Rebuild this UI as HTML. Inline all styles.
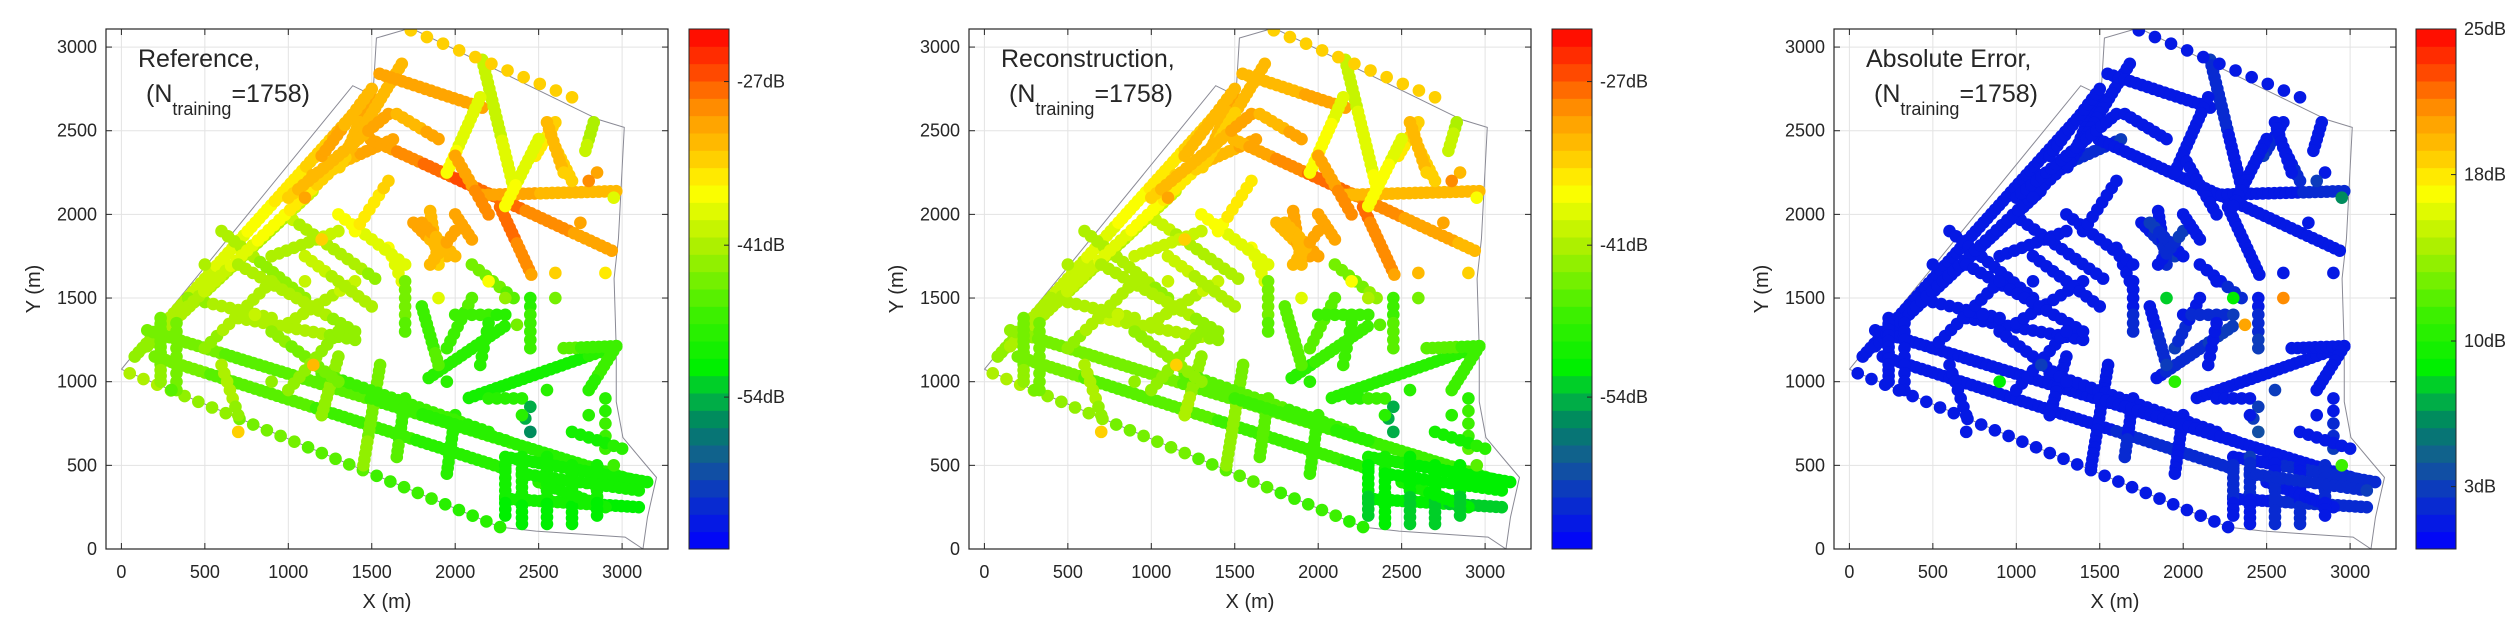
<!DOCTYPE html>
<html><head><meta charset="utf-8">
<style>
html,body{margin:0;padding:0;background:#fff;}
body{width:2517px;height:624px;overflow:hidden;font-family:"Liberation Sans",sans-serif;}
svg text{font-family:"Liberation Sans",sans-serif;fill:#262626;}
</style></head>
<body>
<svg id="fig" width="2517" height="624" viewBox="0 0 2517 624" xmlns="http://www.w3.org/2000/svg"></svg>
<script>
// ---- street data (metres / dB) ----
const sx1=[80,155,1145,1493,1680,1547,1493,2100,2162,2269,2162,2150,2600,2830,2500,1734,1750,1850,600,985,700,155,200,50,2082,1841,2650,2965,235,1550,1700,2000,1300,2300,2300,2400,2700,2500,1800,2450,2100,900,400,1000,1600,2900,1200,
 400,1000,1200,700,1100,1300,1400,500,900,1700,1950,2000,2150,1500,1000,600,2300,2550,2850,2400,2600,2000,2550,1800,1850,330,2200,2700,1650,2000];
const sy1=[1150,1212,2234,2710,2900,2840,2448,2170,2116,2044,2924,2700,2550,2550,2450,3100,1950,2020,1900,1997,1380,1307,1150,1050,903,1022,1200,1212,1380,1100,900,800,1150,550,300,550,500,400,1450,1500,1700,1750,1500,1350,1800,900,1050,
 1450,2100,2350,1700,1750,2000,1900,1200,1300,1600,1200,1400,1100,900,950,1100,500,550,500,450,2400,2350,2550,1950,1700,1350,900,700,2600,2000];
const sx2=[1480,1145,1627,1333,1306,2162,2100,2938,2965,2456,2349,1950,2480,2780,2300,2700,1950,1900,1100,1520,1400,3100,2300,2269,2965,2296,2965,2800,235,1450,1650,1950,1200,3150,3100,2400,2700,2900,1900,2450,2350,1300,900,1400,1700,2900,2200,
 1300,1600,1500,1400,1500,1700,1600,900,1300,1700,2100,2300,2200,2300,1300,700,2300,2550,2850,3100,2700,2200,2650,2000,2000,330,2400,3000,1900,2100];
const sy2=[2700,2139,2448,2329,2282,2638,2170,1783,2139,1640,2163,2250,2350,2380,2050,2700,1750,1700,1500,1616,1250,400,480,131,1212,1331,1212,950,1000,500,550,450,800,400,250,150,150,250,1100,1200,1500,1900,1380,1600,1550,600,700,
 2300,2600,2750,1300,1450,1700,2200,1600,1000,1300,1500,1400,1350,650,1300,800,200,150,200,350,2200,2000,2250,1750,1900,950,900,600,2450,1850];
const refA=[-43,-42,-32,-31,-32,-31,-31,-27,-31,-27,-40,-38,-34,-41,-38,-33,-31,-32,-41,-40,-41,-44,-44,-41,-50,-49,-46,-47,-44,-44,-47,-48,-43,-50,-50,-50,-50,-49,-47,-48,-44,-41,-42,-41,-37,-48,-46,
 -41,-33,-31,-41,-40,-37,-36,-42,-43,-44,-47,-47,-48,-47,-42,-41,-50,-50,-50,-50,-33,-31,-32,-31,-32,-44,-49,-50,-32,-31];
const refB=[-31,-40,-31,-32,-33,-31,-26,-31,-32,-30,-38,-37,-35,-40,-37,-34,-32,-33,-43,-42,-42,-49,-49,-49,-49,-48,-47,-48,-43,-43,-46,-48,-42,-50,-51,-51,-51,-50,-46,-47,-45,-40,-41,-40,-38,-47,-48,
 -33,-31,-32,-42,-41,-38,-34,-41,-44,-45,-46,-48,-48,-49,-42,-42,-51,-51,-51,-50,-34,-29,-33,-32,-31,-44,-48,-49,-31,-30];
const recA=[-43,-41,-33,-31,-32,-32,-32,-28,-32,-28,-40,-38,-33,-41,-38,-33,-32,-31,-41,-40,-40,-43,-44,-41,-49,-48,-45,-47,-44,-44,-46,-47,-43,-50,-51,-50,-51,-50,-46,-47,-44,-40,-41,-41,-37,-48,-45,
 -41,-33,-32,-41,-40,-37,-36,-42,-43,-44,-46,-47,-47,-47,-42,-41,-51,-51,-51,-51,-33,-31,-32,-32,-32,-44,-48,-50,-32,-31];
const recB=[-32,-40,-31,-33,-34,-31,-27,-32,-32,-30,-37,-36,-35,-39,-36,-34,-31,-32,-42,-41,-42,-48,-48,-48,-48,-47,-47,-47,-43,-42,-45,-47,-41,-52,-53,-52,-53,-52,-45,-45,-43,-40,-41,-40,-38,-46,-47,
 -34,-31,-32,-42,-41,-38,-35,-41,-43,-45,-46,-47,-47,-48,-42,-42,-53,-53,-53,-52,-34,-29,-33,-31,-31,-44,-47,-49,-31,-30];
const errA=[1,1,1.5,1,1,1,1,1,1,1,2.5,1.5,1,1,1,1,1,1,1,1,1,1,1,1.5,1.5,1.5,1,1,1,1,1,1,1,1.5,1.5,2.5,1,1,1,1,1,1,1,1,1,1,1.5,
 1,1,1,1,1.5,1,1,1,1,1,2.5,1.5,1,1,1,1,2,1.5,2,2,1,1,1,3,1,1,1,1.5,1,1];
const errB=[1.5,1.5,2.5,1,1.5,1,1.5,1,2,1,1,1,2.5,1,1.5,1,3,2,1.5,1,1,1.5,2,1,1,3,1,1,1,1,2,1,1,2,2,1,2,1.5,2.5,3,2,1,1,1,1,2.5,1,
 1.5,1,1,1,1,1.5,1,1,1.5,2,1,2.5,1,1.5,1,1,1.5,2,1.5,2.5,2,1,1,1,3,1,1.5,1,1,1];
const sGap=[35,35,35,35,35,35,35,35,35,35,35,35,35,35,35,110,35,35,50,50,50,35,35,90,35,35,35,35,35,35,35,35,35,35,35,35,35,35,35,50,50,50,50,50,50,70,45,
 45,40,40,50,50,50,50,50,50,50,50,50,50,40,50,50,40,40,40,40,40,40,40,40,40,50,50,50,40,40];
// ---- isolated measurement points ----
const px=[2450,2420,2450,1100,1200,800,1150,700,2600,2750,2850,2900,2950,2600,2370,2300,1900,2200,1100,500,1950,2400,2550,2800,2950,900,300,2800];
const py=[850,780,700,2100,1850,1400,1100,700,1650,1950,2250,1650,2100,1500,1340,1500,1500,1600,1600,1700,1000,800,950,800,500,1000,950,2200];
const pRef=[-55,-54,-56,-30,-33,-40,-32,-33,-33,-30,-31,-35,-38,-44,-44,-42,-38,-37,-40,-41,-49,-49,-49,-48,-47,-42,-45,-29];
const pRec=[-55,-54,-55,-31,-33,-40,-33,-34,-32,-31,-32,-34,-37,-44,-46,-41,-38,-37,-40,-41,-48,-48,-49,-48,-46,-42,-44,-29];
const pErr=[3,3,4,1,1,1,3,1,1,1,1,1,6,21,20,9,8,1,1,1,10,1,3,1,11,9,1,3];
// ---- boundary outline ----
const bx=[0,1386,1507,1528,1734,2858,3013,2978,2952,2965,2965,3005,3125,3206,3152,3125,3018,2483,2269,0];
const by=[1074,2769,2710,3054,3114,2567,2520,1854,1616,1189,880,666,523,428,190,0,71,107,131,1074];
// ---- ticks ----
const xTicks=[0,500,1000,1500,2000,2500,3000];
const yTicks=[0,500,1000,1500,2000,2500,3000];
const dbTicks=[-27,-41,-54];
const errTicks=[3,10,18,25];

const NS="http://www.w3.org/2000/svg";
const svg=document.getElementById('fig');
function mk(tag,attrs,parent){const e=document.createElementNS(NS,tag);for(const k in attrs)e.setAttribute(k,attrs[k]);(parent||svg).appendChild(e);return e;}
const stops=[[0,0,0,255],[0.1,10,50,200],[0.17,20,90,150],[0.24,0,130,100],[0.3,0,190,60],[0.35,0,240,0],[0.45,60,240,0],[0.58,170,240,0],[0.69,255,255,0],[0.76,255,200,0],[0.84,255,150,0],[0.92,255,70,0],[1,255,0,0]];
function cmap(t){t=Math.max(0,Math.min(0.9999,t));t=(Math.floor(t*30)+0.5)/30;
 for(let i=1;i<stops.length;i++){if(t<=stops[i][0]){const a=stops[i-1],b=stops[i];const f=(t-a[0])/(b[0]-a[0]);
 return `rgb(${Math.round(a[1]+f*(b[1]-a[1]))},${Math.round(a[2]+f*(b[2]-a[2]))},${Math.round(a[3]+f*(b[3]-a[3]))})`;}}return 'rgb(255,0,0)';}

const TOP=29,BOT=549,W=562;
const XPM=0.1669,YPM=520/3108;
function panel(L,title,which,vmin,vmax,cbL,ticks,tickFmt){
 const xs=m=>L+15.4+m*XPM, ys=m=>BOT-m*YPM;
 const g=mk('g',{});
 
 
 xTicks.forEach(t=>{const l=mk('line',{x1:xs(t),x2:xs(t),y1:TOP,y2:BOT,stroke:'#e3e3e3','stroke-width':1},g);
  
  });
 yTicks.forEach(t=>{const l=mk('line',{x1:L,x2:L+W,y1:ys(t),y2:ys(t),stroke:'#e3e3e3','stroke-width':1},g);
  
  });
 const clip=mk('clipPath',{id:'c'+which},g);mk('rect',{x:L,y:TOP,width:W,height:BOT-TOP},clip);
 const pts=bx.map((v,i)=>xs(v)+','+ys(by[i])).join(' ');
 const bl=mk('polyline',{points:pts,fill:'none',stroke:'#8a8a95','stroke-width':1,'clip-path':`url(#c${which})`},g);
 
 
 const dg=mk('g',{'clip-path':`url(#c${which})`},g);
 
 
 const va=which==='reference'?refA:which==='reconstruction'?recA:errA;
 const vb=which==='reference'?refB:which==='reconstruction'?recB:errB;
 const pv=which==='reference'?pRef:which==='reconstruction'?pRec:pErr;
 for(let i=0;i<sx1.length;i++){
  const len=Math.hypot(sx2[i]-sx1[i],sy2[i]-sy1[i]);const n=Math.max(1,Math.round(len/sGap[i]));
  for(let k=0;k<=n;k++){const f=k/n;const v=va[i]+f*(vb[i]-va[i]);
   const c=mk('circle',{cx:xs(sx1[i]+f*(sx2[i]-sx1[i])),cy:ys(sy1[i]+f*(sy2[i]-sy1[i])),r:6.3,fill:cmap((v-vmin)/(vmax-vmin))},dg);
   
   }
 }
 for(let i=0;i<px.length;i++){
  const c=mk('circle',{cx:xs(px[i]),cy:ys(py[i]),r:6.3,fill:cmap((pv[i]-vmin)/(vmax-vmin))},dg);
  
  }
 const bx0=mk('rect',{x:L,y:TOP,width:W,height:BOT-TOP,fill:'none',stroke:'#262626','stroke-width':1.2},g);
 
 
 xTicks.forEach(t=>{mk('line',{x1:xs(t),x2:xs(t),y1:BOT,y2:BOT-6,stroke:'#262626'},g);mk('line',{x1:xs(t),x2:xs(t),y1:TOP,y2:TOP+6,stroke:'#262626'},g);
  const tx=mk('text',{x:xs(t),y:578,'font-size':18,'text-anchor':'middle'},g);tx.textContent=t;
  
  });
 yTicks.forEach(t=>{mk('line',{x1:L,x2:L+6,y1:ys(t),y2:ys(t),stroke:'#262626'},g);mk('line',{x1:L+W,x2:L+W-6,y1:ys(t),y2:ys(t),stroke:'#262626'},g);
  const tx=mk('text',{x:L-9,y:ys(t)+6,'font-size':18,'text-anchor':'end'},g);tx.textContent=t;
  
  });
 const xl=mk('text',{x:L+W/2,y:608,'font-size':20,'text-anchor':'middle'},g);xl.textContent='X (m)';
 
 
 const yl=mk('text',{x:0,y:0,'font-size':20,'text-anchor':'middle',transform:`translate(${L-66},${(TOP+BOT)/2}) rotate(-90)`},g);yl.textContent='Y (m)';
 
 
 const t1=mk('text',{x:L+32,y:67,'font-size':25},g);t1.textContent=title+',';
 
 
 const t2=mk('text',{x:L+40,y:102,'font-size':25},g);
 
 
 const a=mk('tspan',{},t2);a.textContent='(N';
 const b=mk('tspan',{dy:13,'font-size':18},t2);b.textContent='training';
 const c=mk('tspan',{dy:-13},t2);c.textContent='=1758)';
 const cb=mk('g',{},g);
 
 
 const bh=(BOT-TOP)/30;
 for(let k=0;k<30;k++){mk('rect',{x:cbL,y:BOT-(k+1)*bh,width:40,height:bh+0.5,fill:cmap((k+0.5)/30)},cb);}
 mk('rect',{x:cbL,y:TOP,width:40,height:BOT-TOP,fill:'none',stroke:'#262626','stroke-width':1},cb);
 ticks.forEach(v=>{const y=BOT-(v-vmin)/(vmax-vmin)*(BOT-TOP);
  mk('line',{x1:cbL+40,x2:cbL+35,y1:y,y2:y,stroke:'#262626'},cb);
  const tx=mk('text',{x:cbL+48,y:y+6,'font-size':18},cb);tx.textContent=tickFmt(v);
  
  });
}
panel(106,'Reference','reference',-67,-22.5,689,dbTicks,v=>v+'dB');
panel(969,'Reconstruction','reconstruction',-67,-22.5,1552,dbTicks,v=>v+'dB');
panel(1834,'Absolute Error','error',0,25,2416,errTicks,v=>v+'dB');
</script>
</body></html>
